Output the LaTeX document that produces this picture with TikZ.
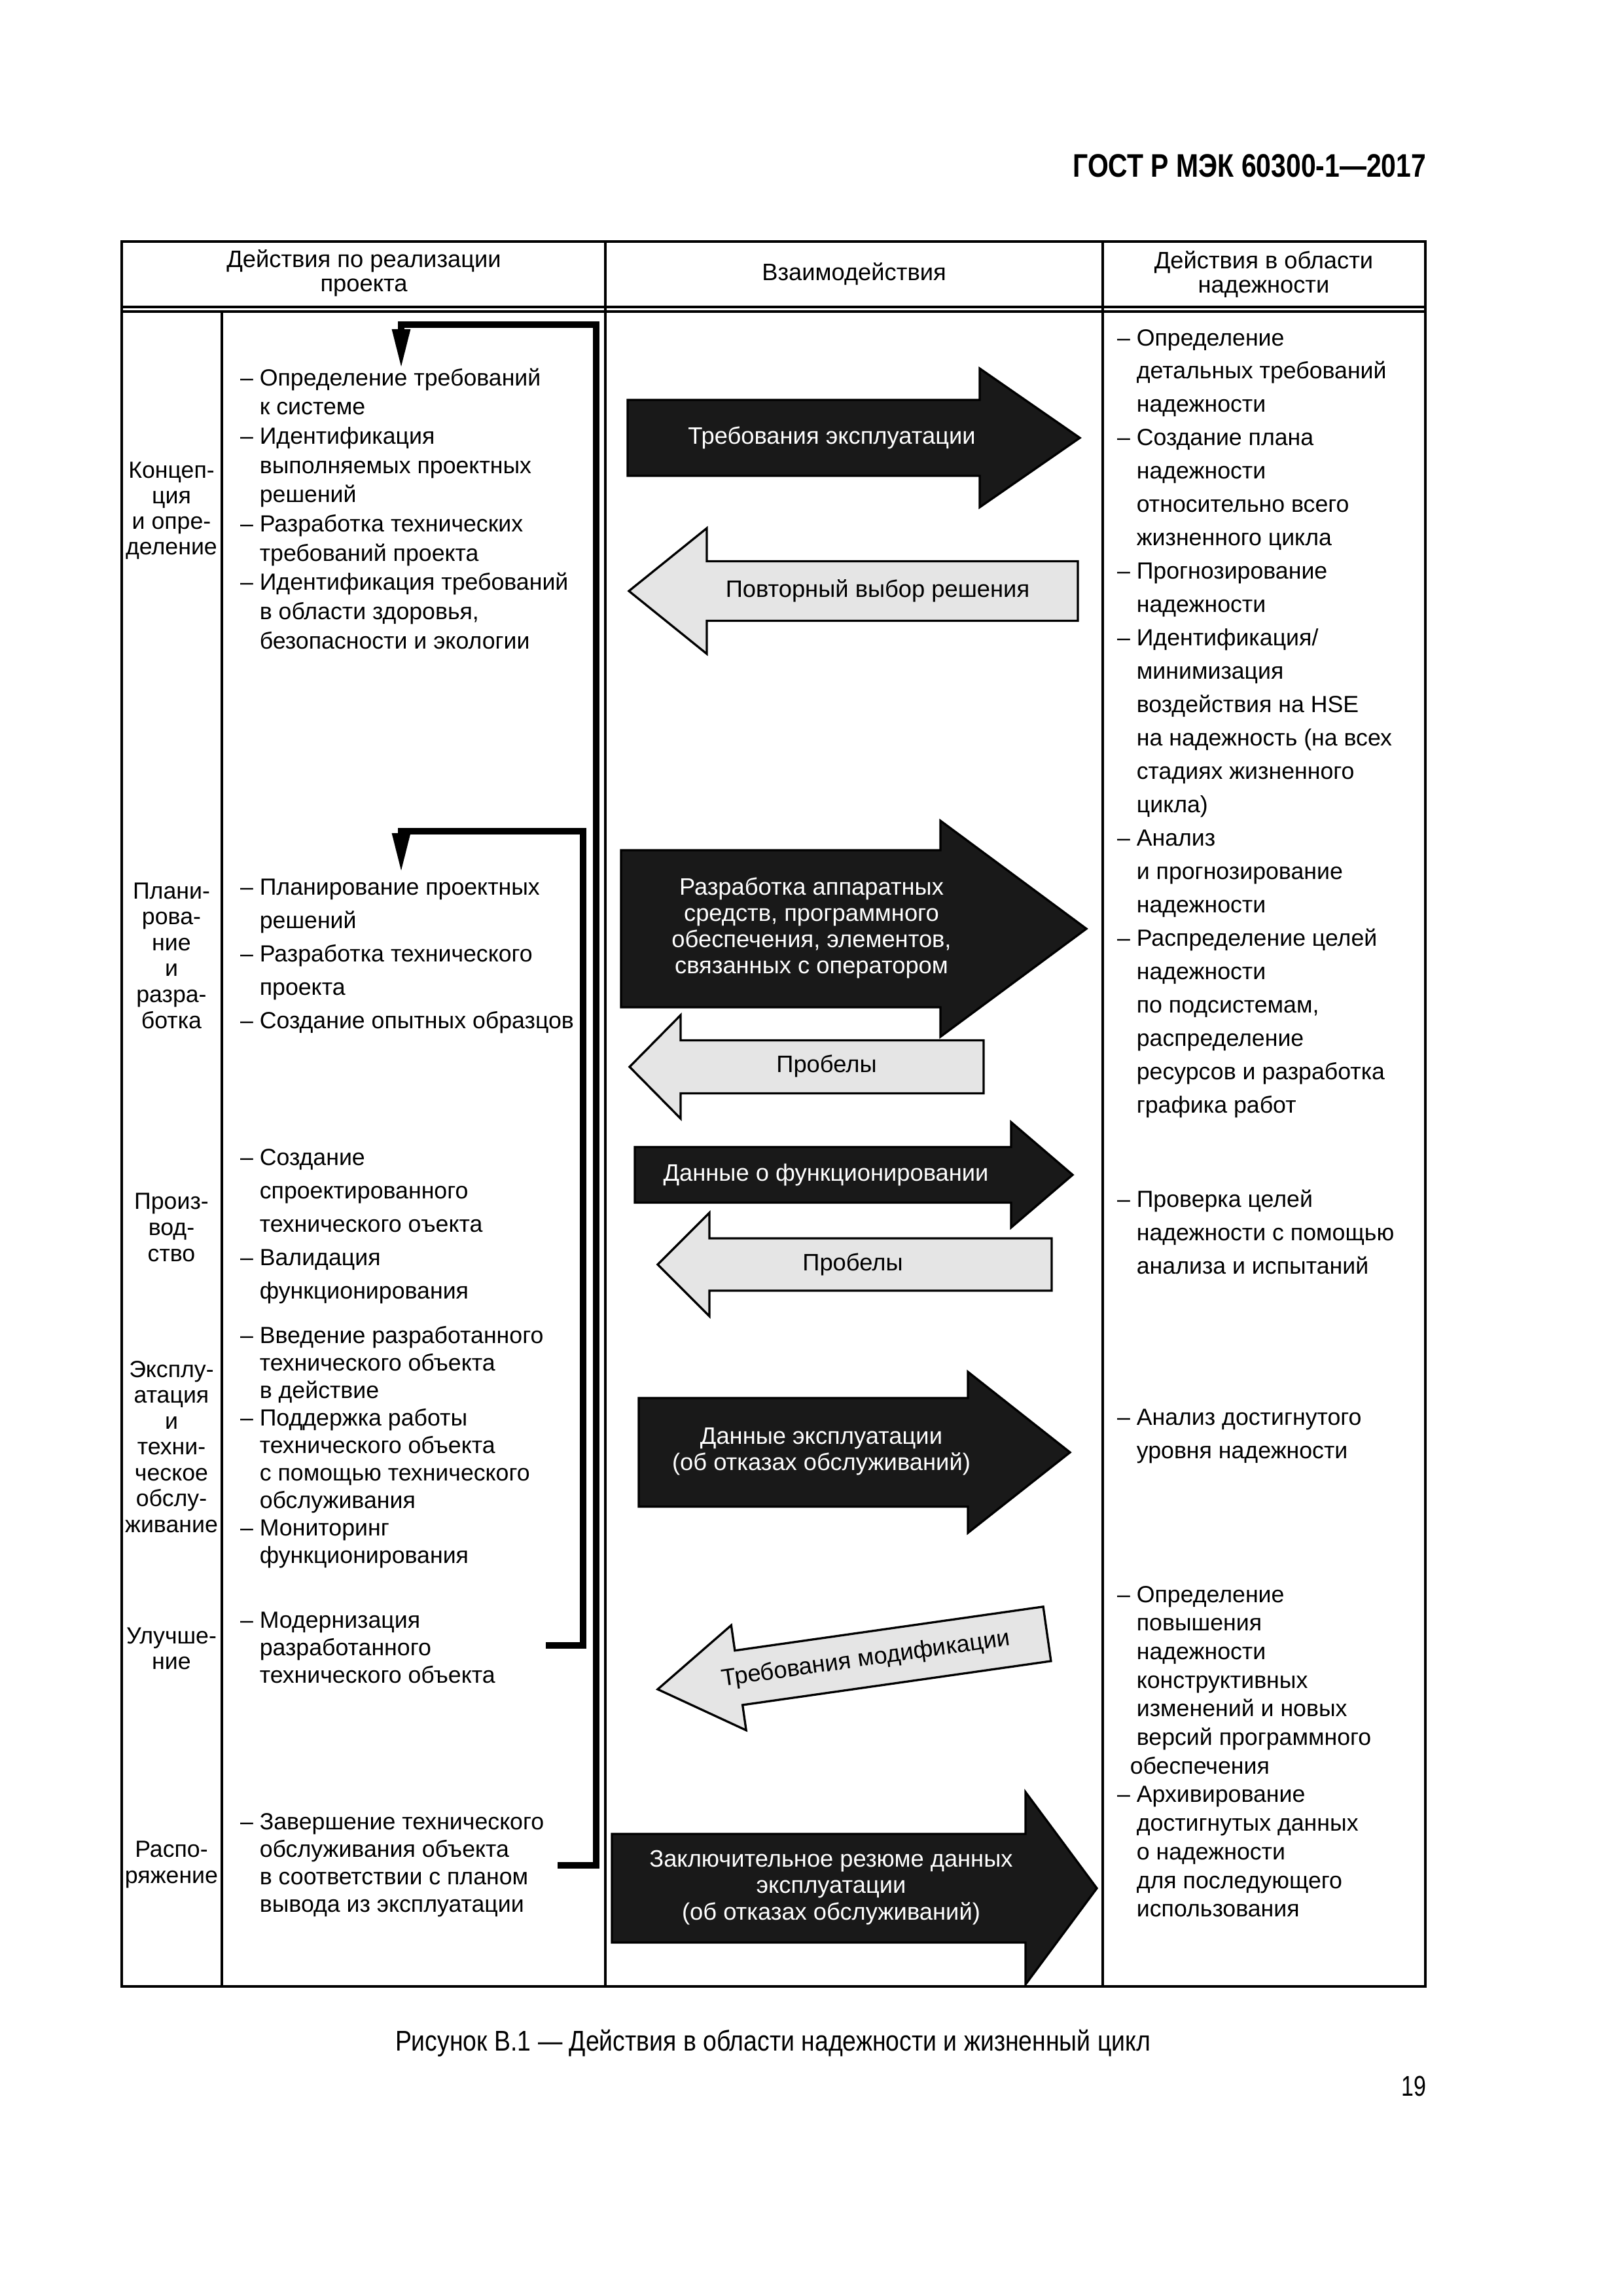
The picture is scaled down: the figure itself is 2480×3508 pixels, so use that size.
\documentclass[tikz,border=0pt]{standalone}
\usepackage{fontspec}
\setmainfont{Liberation Sans}
\usepackage{graphicx}
\usetikzlibrary{arrows.meta}

\definecolor{darkfill}{gray}{0.1}
\definecolor{lightfill}{gray}{0.9}

\tikzset{grid/.style={line width=1.1pt}}
\tikzset{dbl/.style={line width=0.8pt}}
\tikzset{hdr/.style={align=center, inner sep=0pt, font=\fontsize{8.75}{8.9}\selectfont}}
\tikzset{txt/.style={anchor=base west, inner sep=0pt, font=\fontsize{8.6}{10}\selectfont}}
\tikzset{stage/.style={anchor=base, inner sep=0pt, font=\fontsize{8.6}{10}\selectfont}}
\tikzset{darkarrow/.style={draw=black, line width=0.8pt, fill=darkfill, line join=miter}}
\tikzset{lightarrow/.style={draw=black, line width=0.8pt, fill=lightfill, line join=miter}}
\tikzset{lbl/.style={align=center, inner sep=0pt, font=\fontsize{8.75}{9.7}\selectfont}}
\tikzset{lbldark/.style={lbl, text=white}}
\tikzset{fb/.style={line width=2.2pt, line join=miter, -{Triangle[length=5.1mm,width=2.2mm]}}}

% dash in front of an item
\newcommand{\bul}{\llap{–\space}}
% [style]{name}{x}{first baseline}{step}{lines}
\newcommand{\textlines}[6][txt]{%
  \foreach \ltxt [count=\i from 0] in {#6}
    \node[#1] (#2-\i) at (#3,{#4+#5*\i}) {\ltxt};%
}
% {style}{tail x}{head base x}{tip x}{mid y}{half body}{half head}
\newcommand{\fatarrow}[7]{%
  \path[#1] (#2,#5-#6) -- (#3,#5-#6) -- (#3,#5-#7) -- (#4,#5)
    -- (#3,#5+#7) -- (#3,#5+#6) -- (#2,#5+#6) -- cycle;%
}

\begin{document}
\begin{tikzpicture}[x=0.08467mm, y=-0.08467mm]
\useasboundingbox (0,0) rectangle (2480,3508);
\fill[white] (0,0) rectangle (2480,3508);

% page head and caption
\node[anchor=east, inner sep=0pt, font=\bfseries\fontsize{12}{14}\selectfont] (gost) at (2180,253)
  {\resizebox{45.7mm}{\height}{ГОСТ Р МЭК 60300-1—2017}};
\node[inner sep=0pt, font=\fontsize{10.5}{12}\selectfont] (caption) at (1181,3122)
  {\resizebox{97.7mm}{\height}{Рисунок В.1 — Действия в области надежности и жизненный цикл}};
\node[anchor=east, inner sep=0pt, font=\fontsize{10.5}{12}\selectfont] (pagenum) at (2180,3187)
  {\resizebox{3.2mm}{\height}{19}};

% table
\draw[grid] (186,369) rectangle (2178,3035);
\draw[dbl] (186,469) -- (2178,469);
\draw[dbl] (186,476) -- (2178,476);
\draw[grid] (925,369) -- (925,3035);
\draw[grid] (1685,369) -- (1685,3035);
\draw[grid] (339,476) -- (339,3035);

\node[hdr] (h-project) at (556,417) {Действия по реализации\\проекта};
\node[hdr] (h-inter) at (1305,419) {Взаимодействия};
\node[hdr] (h-rel) at (1931,419) {Действия в области\\надежности};

% stages
\textlines[stage]{sa}{262}{730}{39}{Концеп-, ция, и опре-, деление}
\textlines[stage]{sb}{262}{1373}{39.6}{Плани-, рова-, ние, и, разра-, ботка}
\textlines[stage]{sc}{262}{1847}{40}{Произ-, вод-, ство}
\textlines[stage]{sd}{262}{2104}{39.5}{Эксплу-, атация, и, техни-, ческое, обслу-, живание}
\textlines[stage]{se}{262}{2511}{39.5}{Улучше-, ние}
\textlines[stage]{sf}{262}{2837}{40}{Распо-, ряжение}

% project activities
\textlines{pa}{396}{589}{44.7}{\bul Определение требований, к системе, \bul Идентификация,
  выполняемых проектных, решений, \bul Разработка технических, требований проекта,
  \bul Идентификация требований, {в области здоровья,}, безопасности и экологии}
\textlines{pb}{396}{1367}{51}{\bul Планирование проектных, решений,
  \bul Разработка технического, проекта, \bul Создание опытных образцов}
\textlines{pc}{396}{1780}{51}{\bul Создание, спроектированного, технического оъекта,
  \bul Валидация, функционирования}
\textlines{pd}{396}{2052}{42}{\bul Введение разработанного, технического объекта, в действие,
  \bul Поддержка работы, технического объекта, с помощью технического, обслуживания,
  \bul Мониторинг, функционирования}
\textlines{pe}{396}{2487}{42}{\bul Модернизация, разработанного, технического объекта}
\textlines{pf}{396}{2795}{42}{\bul Завершение технического, обслуживания объекта,
  в соответствии с планом, вывода из эксплуатации}

% reliability activities
\textlines{ra}{1736}{528}{50.96}{\bul Определение, детальных требований, надежности,
  \bul Создание плана, надежности, относительно всего, жизненного цикла,
  \bul Прогнозирование, надежности, \bul Идентификация/, минимизация,
  воздействия на HSE, на надежность (на всех, стадиях жизненного, цикла),
  \bul Анализ, и прогнозирование, надежности, \bul Распределение целей, надежности,
  {по подсистемам,}, распределение, ресурсов и разработка, графика работ}
\textlines{rb}{1736}{1844}{51}{\bul Проверка целей, надежности с помощью, анализа и испытаний}
\textlines{rc}{1736}{2177}{51}{\bul Анализ достигнутого, уровня надежности}
\textlines{rd}{1736}{2448}{43.7}{\bul Определение, повышения, надежности, конструктивных,
  изменений и новых, версий программного, \kern-0.85mm обеспечения, \bul Архивирование,
  достигнутых данных, о надежности, для последующего, использования}

% interactions
\fatarrow{darkarrow}{959}{1497}{1650}{669}{58}{106}
\node[lbldark] (opreq) at (1271,669) {Требования эксплуатации};
\fatarrow{lightarrow}{1647}{1080}{961}{903}{45.5}{96}
\node[lbl] (reselect) at (1341,903) {Повторный выбор решения};
\fatarrow{darkarrow}{949}{1437}{1660}{1419}{120}{165}
\node[lbldark] (hwsw) at (1240,1418) {Разработка аппаратных\\средств, программного\\обеспечения, элементов,\\связанных с оператором};
\fatarrow{lightarrow}{1503}{1040}{962}{1630}{40.5}{79}
\node[lbl] (gaps1) at (1263,1629) {Пробелы};
\fatarrow{darkarrow}{970}{1545}{1639}{1795}{42.5}{80.5}
\node[lbldark] (fdata) at (1262,1795) {Данные о функционировании};
\fatarrow{lightarrow}{1607}{1084}{1005}{1932}{40}{79}
\node[lbl] (gaps2) at (1303,1932) {Пробелы};
\fatarrow{darkarrow}{976}{1479}{1635}{2219}{83}{123}
\node[lbldark] (opdata) at (1255,2218) {Данные эксплуатации\\(об отказах обслуживаний)};
\begin{scope}[shift={(1005,2581)}, rotate=8.1]
  \fatarrow{lightarrow}{601}{125}{0}{0}{42}{81}
  \node[lbl, rotate=8.1] (modreq) at (321,0) {Требования модификации};
\end{scope}
\fatarrow{darkarrow}{935}{1567}{1676}{2885}{83}{147}
\node[lbldark] (final) at (1270,2884) {Заключительное резюме данных\\эксплуатации\\(об отказах обслуживаний)};

% feedback loops
\coordinate (fb1-start) at (852,2850);
\coordinate (fb1-end) at (613,563);
\draw[fb] (fb1-start) -| (911,496) -| (fb1-end);
\coordinate (fb2-start) at (834,2514);
\coordinate (fb2-end) at (613,1333);
\draw[fb] (fb2-start) -| (891,1270) -| (fb2-end);
\end{tikzpicture}
\end{document}
